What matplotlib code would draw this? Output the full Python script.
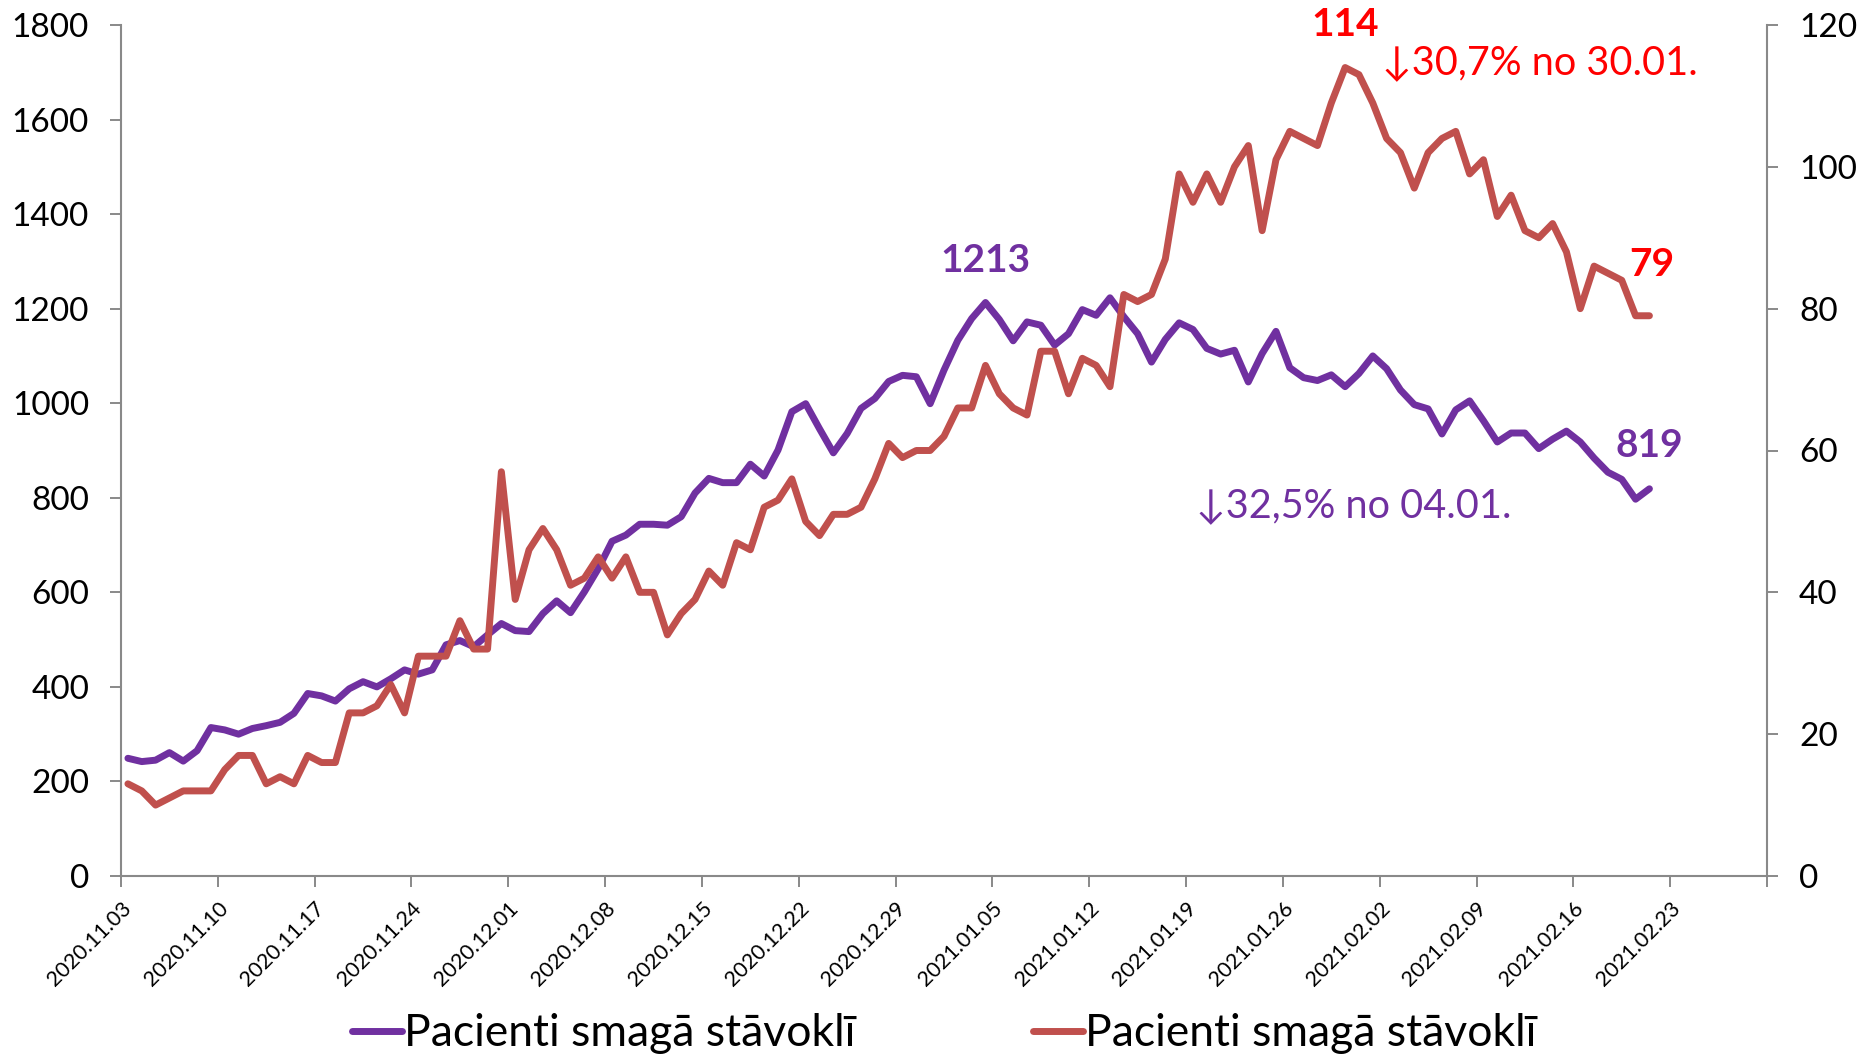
import pandas as pd
import numpy as np
import matplotlib
matplotlib.use('Agg')
import matplotlib.pyplot as plt

# Dati: pacienti smagā stāvoklī (kreisā ass) un otrā sērija (labā ass), katra diena no 03.11.2020.
sakuma_datums = '2020-11-03'
beigu_datums = '2021-03-02'

pacienti_kreisa = [
    249, 242, 245, 261, 243, 265, 314, 309, 300, 312,
    318, 325, 344, 386, 381, 370, 396, 411, 400, 417,
    436, 427, 436, 489, 498, 485, 510, 534, 519, 517,
    555, 582, 557, 601, 650, 708, 721, 744, 744, 742,
    760, 810, 841, 832, 832, 871, 846, 901, 982, 999,
    946, 895, 936, 989, 1010, 1046, 1059, 1056, 999, 1070,
    1133, 1179, 1213, 1177, 1132, 1172, 1165, 1123, 1147, 1198,
    1186, 1223, 1183, 1147, 1087, 1135, 1170, 1156, 1116, 1104,
    1112, 1045, 1105, 1152, 1075, 1054, 1048, 1060, 1035, 1063,
    1100, 1073, 1028, 997, 988, 935, 986, 1005, 963, 918,
    937, 937, 904, 924, 941, 918, 884, 854, 839, 797,
    819,
]

pacienti_laba = [
    13, 12, 10, 11, 12, 12, 12, 15, 17, 17,
    13, 14, 13, 17, 16, 16, 23, 23, 24, 27,
    23, 31, 31, 31, 36, 32, 32, 57, 39, 46,
    49, 46, 41, 42, 45, 42, 45, 40, 40, 34,
    37, 39, 43, 41, 47, 46, 52, 53, 56, 50,
    48, 51, 51, 52, 56, 61, 59, 60, 60, 62,
    66, 66, 72, 68, 66, 65, 74, 74, 68, 73,
    72, 69, 82, 81, 82, 87, 99, 95, 99, 95,
    100, 103, 91, 101, 105, 104, 103, 109, 114, 113,
    109, 104, 102, 97, 102, 104, 105, 99, 101, 93,
    96, 91, 90, 92, 88, 80, 86, 85, 84, 79,
    79,
]

ass_datumi = ['2020.11.03', '2020.11.10', '2020.11.17', '2020.11.24', '2020.12.01',
              '2020.12.08', '2020.12.15', '2020.12.22', '2020.12.29', '2021.01.05',
              '2021.01.12', '2021.01.19', '2021.01.26', '2021.02.02', '2021.02.09',
              '2021.02.16', '2021.02.23', '']
kreisa_ticks = [0, 200, 400, 600, 800, 1000, 1200, 1400, 1600, 1800]
laba_ticks = [0, 20, 40, 60, 80, 100, 120]
legendas = ['Pacienti smagā stāvoklī', 'Pacienti smagā stāvoklī']
kritums_kreisa = '↓32,5% no 04.01.'
kritums_laba = '↓30,7% no 30.01.'
# datumi, no kuriem rēķināts kritums
virsotne_kreisa = '2021-01-04'
virsotne_laba = '2021-01-30'

violets = '#7030A0'
sarkans_l = '#C0504D'
sarkans_t = '#FF0000'
peleks = '#898989'

plt.rcParams['font.family'] = ['Lato', 'DejaVu Sans']

fig = plt.figure(figsize=(18.66, 10.58), dpi=100)
ax = fig.add_axes([121 / 1866, 1 - 876 / 1058, (1767 - 121) / 1866, (876 - 25) / 1058])
ax2 = ax.twinx()

dienas = pd.date_range(sakuma_datums, periods=len(pacienti_kreisa))
datumi = dienas + pd.Timedelta(hours=12)

l1, = ax.plot(datumi, pacienti_kreisa, color=violets, lw=5,
              solid_joinstyle='round', solid_capstyle='round')
l2, = ax2.plot(datumi, pacienti_laba, color=sarkans_l, lw=5,
               solid_joinstyle='round', solid_capstyle='round')

ax.set_xlim(pd.Timestamp(sakuma_datums), pd.Timestamp(beigu_datums))
ax.set_ylim(0, 1800)
ax2.set_ylim(0, 120)
ax.set_yticks(kreisa_ticks)
ax2.set_yticks(laba_ticks)

ticks = pd.date_range(sakuma_datums, beigu_datums, freq='7D')
ax.set_xticks(ticks)
ax.set_xticklabels(ass_datumi, rotation=45, ha='right', va='top',
                   rotation_mode='anchor', fontsize=15.5)

for a in (ax, ax2):
    a.spines['top'].set_visible(False)
    for s in a.spines.values():
        s.set_color(peleks)
        s.set_linewidth(1.5)
ax.spines['right'].set_visible(False)
ax2.spines['left'].set_visible(False)
ax2.spines['bottom'].set_visible(False)

ax.tick_params(axis='y', direction='out', length=8, width=1.4, color=peleks,
               labelsize=24, pad=15)
ax2.tick_params(axis='y', direction='out', length=8, width=1.4, color=peleks,
                labelsize=24, pad=15)
ax.tick_params(axis='x', direction='out', length=8, width=1.4, color=peleks, pad=8)

# Uzraksti
i1 = dienas.get_loc(pd.Timestamp(virsotne_kreisa))
ax.annotate(str(pacienti_kreisa[i1]), xy=(datumi[i1], pacienti_kreisa[i1]),
            xytext=(0, 42), textcoords='offset pixels', ha='center', va='center',
            fontsize=28, fontweight='bold', color=violets)
i2 = dienas.get_loc(pd.Timestamp(virsotne_laba))
ax2.annotate(str(pacienti_laba[i2]), xy=(datumi[i2], pacienti_laba[i2]),
             xytext=(0, 43), textcoords='offset pixels', ha='center', va='center',
             fontsize=28, fontweight='bold', color=sarkans_t)
ax2.annotate(kritums_laba, xy=(datumi[i2], pacienti_laba[i2]),
             xytext=(37, 5), textcoords='offset pixels', ha='left', va='center',
             fontsize=28.5, color=sarkans_t)
ax2.annotate(str(pacienti_laba[-1]), xy=(datumi[-1], pacienti_laba[-1]),
             xytext=(2, 51), textcoords='offset pixels', ha='center', va='center',
             fontsize=28, fontweight='bold', color=sarkans_t)
ax.annotate(str(pacienti_kreisa[-1]), xy=(datumi[-1], pacienti_kreisa[-1]),
            xytext=(0, 43), textcoords='offset pixels', ha='center', va='center',
            fontsize=28, fontweight='bold', color=violets)
ax.annotate(kritums_kreisa, xy=(datumi[-1], pacienti_kreisa[-1]),
            xytext=(-453, -17), textcoords='offset pixels', ha='left', va='center',
            fontsize=28.5, color=violets)

fig.legend([l1, l2], legendas, loc='center', bbox_to_anchor=(0.506, 0.0227),
           ncol=2, frameon=False, fontsize=32, handlelength=1.12,
           handletextpad=0.05, columnspacing=4.0)

fig.savefig('out.png', dpi=100)
